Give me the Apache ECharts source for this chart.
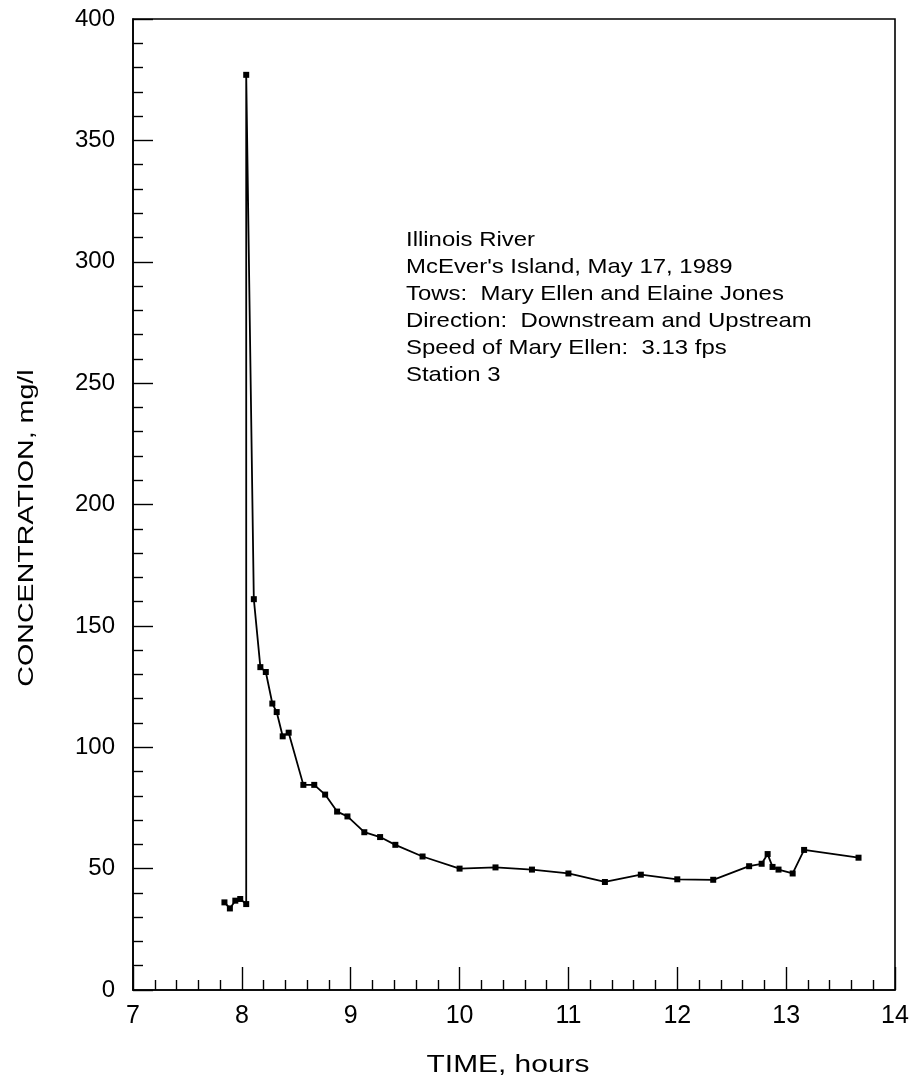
<!DOCTYPE html>
<html>
<head>
<meta charset="utf-8">
<script src="https://cdn.jsdelivr.net/npm/echarts@6/dist/echarts.min.js"></script>
<style>
  html, body { margin: 0; padding: 0; background: #fff; }
  #chart { width: 915px; height: 1082px; }
</style>
</head>
<body>
<div id="chart"></div>
<script>
// Sampling times (hours) and measured suspended-sediment concentration (mg/l), Station 3
const times = [7.84, 7.89, 7.94, 7.985, 8.04, 8.04, 8.11, 8.17, 8.22, 8.28, 8.32, 8.375, 8.43,
  8.565, 8.665, 8.765, 8.875, 8.97, 9.125, 9.27, 9.41, 9.66, 10.0, 10.33, 10.665, 11.0, 11.335,
  11.665, 12.0, 12.33, 12.66, 12.775, 12.83, 12.875, 12.93, 13.06, 13.165, 13.665];
const concentration = [36.1, 33.6, 36.8, 37.5, 35.4, 377, 161, 133, 131, 118, 114.5, 104.5, 106,
  84.5, 84.5, 80.5, 73.5, 71.5, 65, 63, 59.8, 55, 50, 50.5, 49.6, 48, 44.5, 47.5, 45.6, 45.4,
  51, 52, 56, 50.7, 49.6, 48, 57.7, 54.5];

// Axis ranges and tick labels
const xTickLabels = [7, 8, 9, 10, 11, 12, 13, 14];
const yTickLabels = [0, 50, 100, 150, 200, 250, 300, 350, 400];

// Axis titles
const xTitle = 'TIME, hours';
const yTitle = 'CONCENTRATION, mg/l';

// Run description printed inside the plot
const noteLines = [
  'Illinois River',
  "McEver's Island, May 17, 1989",
  'Tows:  Mary Ellen and Elaine Jones',
  'Direction:  Downstream and Upstream',
  'Speed of Mary Ellen:  3.13 fps',
  'Station 3'
];

const FONT = "'Liberation Sans', Arial, Helvetica, sans-serif";

const chart = echarts.init(document.getElementById('chart'), null, { renderer: 'canvas' });

const points = times.map((t, i) => [t, concentration[i]]);

chart.setOption({
  animation: false,
  backgroundColor: '#ffffff',
  grid: {
    left: 133, right: 20, top: 19, bottom: 92,
    containLabel: false,
    outerBoundsMode: 'none',
    show: true,
    borderColor: '#000',
    borderWidth: 1.6,
    backgroundColor: 'transparent'
  },
  xAxis: {
    type: 'value',
    min: xTickLabels[0],
    max: xTickLabels[xTickLabels.length - 1],
    interval: 1,
    axisLine: { show: true, lineStyle: { color: '#000', width: 1.6 } },
    axisTick: { show: true, inside: true, length: 23, lineStyle: { color: '#000', width: 1.4 } },
    minorTick: { show: true, splitNumber: 5, length: 10, lineStyle: { color: '#000', width: 1.4 } },
    splitLine: { show: false },
    minorSplitLine: { show: false },
    axisLabel: { margin: 14, fontFamily: FONT, fontSize: 25, color: '#000' }
  },
  yAxis: {
    type: 'value',
    min: yTickLabels[0],
    max: yTickLabels[yTickLabels.length - 1],
    interval: 50,
    axisLine: { show: true, lineStyle: { color: '#000', width: 1.6 } },
    axisTick: { show: true, inside: true, length: 20, lineStyle: { color: '#000', width: 1.4 } },
    minorTick: { show: true, splitNumber: 5, length: 10, lineStyle: { color: '#000', width: 1.4 } },
    splitLine: { show: false },
    minorSplitLine: { show: false },
    axisLabel: { margin: 18, fontFamily: FONT, fontSize: 24, color: '#000' }
  },
  graphic: [
    {
      // run description block
      type: 'text',
      x: 406,
      y: 227,
      scaleX: 1.14,
      style: {
        text: noteLines.join('\n'),
        fontFamily: FONT,
        fontSize: 21,
        lineHeight: 27,
        fill: '#000'
      }
    },
    {
      // x-axis title
      type: 'text',
      x: 508,
      y: 1066,
      scaleX: 1.3,
      style: {
        text: xTitle,
        fontFamily: FONT,
        fontSize: 23,
        fill: '#000',
        align: 'center',
        verticalAlign: 'middle'
      }
    },
    {
      // y-axis title, reading bottom to top
      type: 'text',
      x: 27,
      y: 528,
      rotation: Math.PI / 2,
      scaleX: 1.3,
      style: {
        text: yTitle,
        fontFamily: FONT,
        fontSize: 22,
        fill: '#000',
        align: 'center',
        verticalAlign: 'middle'
      }
    }
  ],
  series: [{
    type: 'line',
    data: points,
    symbol: 'rect',
    symbolSize: 6,
    showAllSymbol: true,
    lineStyle: { color: '#000', width: 1.8 },
    itemStyle: { color: '#000' },
    emphasis: { disabled: true }
  }]
});
</script>
</body>
</html>
